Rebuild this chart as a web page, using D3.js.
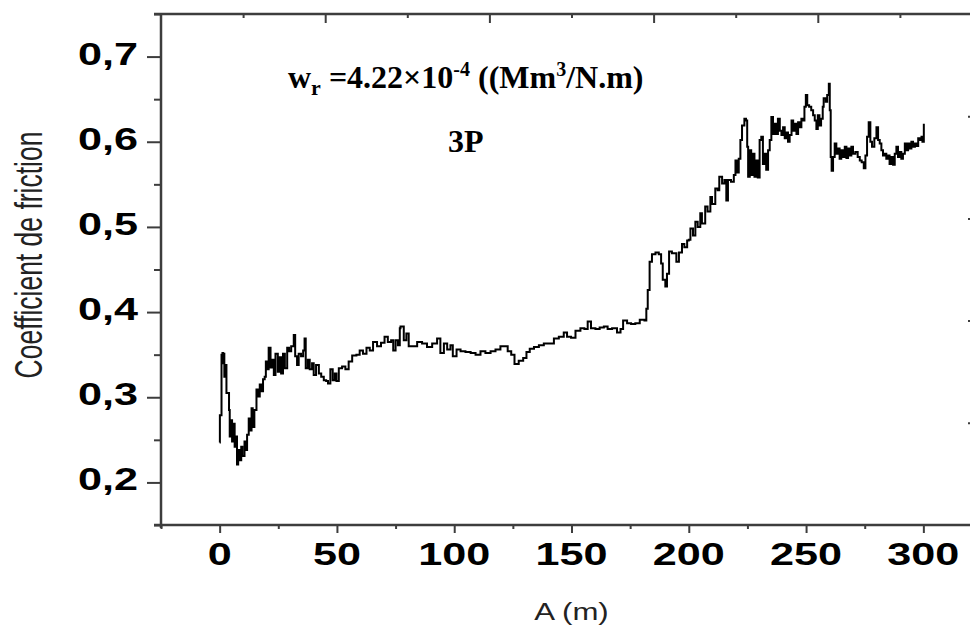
<!DOCTYPE html>
<html>
<head>
<meta charset="utf-8">
<script src="https://cdn.jsdelivr.net/npm/d3@7"></script>
<style>
  html, body { margin: 0; background: #fff; }
  svg { display: block; }
</style>
</head>
<body>
<svg id="chart" width="970" height="630"></svg>
<script>
// distance (m), coefficient of friction
const runIn = [
  [0,0.247],[0.1,0.279],[0.8,0.350],[1.2,0.352],[1.5,0.340],[1.8,0.351],[2.0,0.324],[2.5,0.338],
  [2.9,0.305],[3.6,0.305],[4.0,0.285],[4.3,0.254],[4.9,0.273],[5.3,0.248],[6.0,0.269],[6.4,0.242],
  [7.0,0.254],[7.4,0.221],[7.9,0.238],[8.4,0.226],[9.2,0.242],[9.7,0.231],[10.6,0.248],[11.1,0.238],
  [11.7,0.256],[12.4,0.275],[13.0,0.261],[13.6,0.287],[14.1,0.265],[14.8,0.285],[15.7,0.309],[16.4,0.301],
  [17.1,0.315],[17.8,0.307],[18.5,0.321],[19.2,0.324],[19.7,0.342],[20.2,0.333],[20.9,0.358],[21.7,0.335],
  [22.4,0.344],[23.1,0.326],[23.8,0.351],[24.8,0.330],[25.5,0.347],[26.2,0.328],[27.0,0.351],[27.8,0.334],
  [28.8,0.358],[29.6,0.354],[30.5,0.360],[31.6,0.373],[32.2,0.348],[33.0,0.338],[33.7,0.351],[34.7,0.348],
  [35.6,0.355],[36.2,0.369],[36.7,0.334],[37.6,0.344],[38.4,0.333],[39.4,0.340],[40.1,0.326],[41.1,0.338],
  [42.3,0.328],[43.3,0.324],[44.4,0.320],[45.4,0.319],[46.2,0.316],[47.2,0.333],[48.2,0.320],[49.1,0.328],
  [49.8,0.319],[50.8,0.334],[52.2,0.336],[53.6,0.333],[55.0,0.342],[56.5,0.349],[58.3,0.350],[59.7,0.355],
  [61.1,0.351],[62.6,0.358],[64.0,0.355],[65.4,0.365],[67.1,0.360],[68.8,0.364],[70.3,0.371],[71.7,0.365],
  [73.1,0.367],[74.0,0.355],[75.0,0.367],[76.0,0.361],[76.8,0.381]
];
const plateau = [
  [77.1,0.383],[78.5,0.367],[79.6,0.375],[80.6,0.360],[82.0,0.360],[84.2,0.365],[86.3,0.363],[88.4,0.359],
  [90.6,0.363],[92.7,0.369],[94.1,0.352],[95.6,0.363],[97.0,0.356],[98.4,0.361],[99.4,0.348],[101.0,0.356],
  [102.7,0.354],[104.8,0.353],[107.0,0.352],[109.1,0.350],[111.2,0.354],[113.3,0.352],[115.5,0.354],[117.6,0.356],
  [119.7,0.360],[121.1,0.360],[122.8,0.354],[124.3,0.350],[125.7,0.339],[127.5,0.343],[129.4,0.346],[130.8,0.353],
  [132.2,0.357],[134.0,0.359],[136.1,0.361],[138.2,0.363],[141.0,0.363],[142.5,0.369],[144.6,0.371],[146.7,0.376],
  [148.1,0.371],[149.8,0.370],[151.7,0.378],[153.8,0.381],[155.5,0.380],[156.9,0.389],[158.3,0.381],[160.2,0.380],
  [162.0,0.382],[163.8,0.383],[165.4,0.380],[167.3,0.381],[169.4,0.376],[170.9,0.380],[172.0,0.390],[173.7,0.387],
  [175.4,0.386],[177.2,0.387],[179.1,0.391],[181.1,0.390],[181.9,0.404],[182.5,0.426],[183.3,0.459],[184.3,0.468],
  [185.8,0.470],[187.2,0.468],[188.2,0.457],[188.9,0.438],[190.0,0.430],[190.7,0.445],[191.6,0.471],[192.8,0.469],
  [194.7,0.459],[195.8,0.470],[197.1,0.480],[198.1,0.476],[199.3,0.484]
];
const rise = [
  [200.0,0.485],[200.7,0.498],[201.8,0.490],[202.8,0.506],[203.8,0.500],[204.9,0.516],[205.6,0.504],[207.0,0.524],
  [208.0,0.518],[209.2,0.535],[209.9,0.527],[211.3,0.545],[212.3,0.543],[213.0,0.559],[214.2,0.551],[215.2,0.555],
  [216.0,0.531],[216.7,0.555],[218.0,0.553],[219.2,0.561],[219.9,0.578],[220.6,0.564],[221.3,0.580],[222.0,0.602],
  [222.7,0.619],[223.7,0.627],[224.4,0.625],[224.9,0.594],[225.3,0.559],[226.0,0.590],[226.6,0.561],[227.4,0.586],
  [228.0,0.559],[228.7,0.578],[229.4,0.558],[230.2,0.602],[230.9,0.606],[231.6,0.574],[232.3,0.586],[233.0,0.567],
  [233.8,0.590],[234.5,0.602],[235.2,0.629],[235.9,0.609],[236.6,0.621],[237.3,0.609],[238.0,0.627],[238.8,0.613],
  [239.5,0.608],[240.2,0.617],[240.9,0.604],[241.6,0.611],[242.3,0.600],[243.0,0.608],[243.8,0.625],[244.5,0.613],
  [245.2,0.621],[245.9,0.609],[246.6,0.623],[247.3,0.617],[248.0,0.627],[248.8,0.625],[249.3,0.641],[249.9,0.655],
  [250.5,0.643],[251.3,0.641],[252.2,0.637],[253.0,0.631],[253.7,0.625],[254.4,0.615],[255.0,0.631],[255.7,0.619],
  [256.4,0.627],[257.1,0.641],[257.5,0.651],[258.4,0.647],[259.0,0.655],[259.7,0.668],[260.1,0.637],[260.5,0.582],
  [260.9,0.566],[261.5,0.582],[262.2,0.598],[262.9,0.586],[263.6,0.592],[264.3,0.580],[265.0,0.590],[265.8,0.582],
  [266.5,0.594],[267.2,0.581],[267.9,0.592],[268.6,0.584],[269.3,0.594],[270.0,0.586],[271.0,0.588],[272.0,0.582],
  [272.9,0.578],[273.7,0.576],[274.6,0.569],[275.3,0.584],[276.0,0.606],[276.7,0.623],[277.4,0.600],[278.1,0.594],
  [279.1,0.604],[280.0,0.617],[280.7,0.602],[281.4,0.598],[282.1,0.590],[282.8,0.584],[283.5,0.586],[284.2,0.580],
  [285.0,0.584],[285.6,0.574],[286.4,0.582],[287.1,0.573],[287.8,0.586],[288.5,0.594],[289.2,0.582],[289.9,0.588],
  [290.6,0.580],[291.3,0.586],[292.1,0.598],[292.8,0.590],[293.5,0.598],[294.2,0.592],[294.9,0.600],[295.6,0.594],
  [296.4,0.598],[297.1,0.595],[297.8,0.604],[298.5,0.602],[299.2,0.606],[299.6,0.600],[300.2,0.621]
];

const xTicks = [0, 50, 100, 150, 200, 250, 300];
const xMinorTicks = [-25, 25, 75, 125, 175, 225, 275, 325];
const yTicks = [0.2, 0.3, 0.4, 0.5, 0.6, 0.7];
const yTickLabels = ['0,2', '0,3', '0,4', '0,5', '0,6', '0,7'];
const yMinorTicks = [0.15, 0.25, 0.35, 0.45, 0.55, 0.65, 0.75];
// mirror axes on top / right carry their own divisions
const topTicks = [1, 2, 3, 4];
const topMinorTicks = [0.5, 1.5, 2.5, 3.5, 4.5];
const rightTicks = [1, 2, 3, 4];

const svg = d3.select('#chart');
const axisColor = '#3d3d3d';

const x = d3.scaleLinear().domain([-25, 325]).range([161, 982]);
const y = d3.scaleLinear().domain([0.15, 0.75]).range([525, 14]);
const xTop = d3.scaleLinear().domain([0, 5]).range(x.range());
const yRight = d3.scaleLinear().domain([0, 5]).range(y.range());

const [x0, x1] = x.range();
const [yBottom, yTop] = y.range();

function styleAxis(g) {
    g.select('.domain').remove();
    g.selectAll('line').attr('stroke', axisColor).attr('stroke-width', 2);
}

// ticks
svg.append('g').attr('transform', `translate(0,${yBottom})`)
    .call(d3.axisBottom(x).tickValues(xTicks).tickSize(8).tickFormat(''))
    .call(styleAxis);
svg.append('g').attr('transform', `translate(0,${yBottom})`)
    .call(d3.axisBottom(x).tickValues(xMinorTicks).tickSize(4).tickFormat(''))
    .call(styleAxis);
svg.append('g').attr('transform', `translate(${x0},0)`)
    .call(d3.axisLeft(y).tickValues(yTicks).tickSize(14).tickFormat(''))
    .call(styleAxis);
svg.append('g').attr('transform', `translate(${x0},0)`)
    .call(d3.axisLeft(y).tickValues(yMinorTicks).tickSize(7).tickFormat(''))
    .call(styleAxis);
svg.append('g').attr('transform', `translate(0,${yTop})`)
    .call(d3.axisBottom(xTop).tickValues(topTicks).tickSize(9).tickFormat(''))
    .call(styleAxis);
svg.append('g').attr('transform', `translate(0,${yTop})`)
    .call(d3.axisBottom(xTop).tickValues(topMinorTicks).tickSize(4).tickFormat(''))
    .call(styleAxis);
svg.append('g').attr('transform', `translate(${x1},0)`)
    .call(d3.axisRight(yRight).tickValues(rightTicks).tickSize(-14).tickFormat(''))
    .call(styleAxis);

// frame
const frame = svg.append('g').attr('stroke', axisColor).attr('stroke-width', 2.5);
frame.append('line').attr('x1', x0).attr('x2', x0).attr('y1', yTop).attr('y2', yBottom + 3);
frame.append('line').attr('x1', x0 - 7).attr('x2', x1 + 7).attr('y1', yBottom).attr('y2', yBottom);
frame.append('line').attr('x1', x0 - 7).attr('x2', x1 + 7).attr('y1', yTop).attr('y2', yTop);
frame.append('line').attr('x1', x1).attr('x2', x1).attr('y1', yTop).attr('y2', yBottom);

// tick labels (stretched bold sans)
svg.append('g').selectAll('text').data(xTicks).join('text')
    .attr('transform', d => `translate(${x(d)},565) scale(1.35,1)`)
    .attr('text-anchor', 'middle')
    .attr('font-family', 'Liberation Sans, Arial, sans-serif')
    .attr('font-weight', 'bold').attr('font-size', 32).attr('fill', '#000')
    .text(d => d);

svg.append('g').selectAll('text').data(yTicks).join('text')
    .attr('transform', d => `translate(138,${y(d) + 8}) scale(1.35,1)`)
    .attr('text-anchor', 'end')
    .attr('font-family', 'Liberation Sans, Arial, sans-serif')
    .attr('font-weight', 'bold').attr('font-size', 32).attr('fill', '#000')
    .text((d, i) => yTickLabels[i]);

// axis titles
svg.append('text')
    .attr('transform', `translate(42,255) scale(1.45,1) rotate(-90)`)
    .attr('text-anchor', 'middle')
    .attr('font-family', 'Liberation Sans, Arial, sans-serif')
    .attr('font-size', 26.5).attr('fill', '#222')
    .text('Coefficient de friction');

svg.append('text')
    .attr('transform', `translate(${(x0 + x1) / 2},620) scale(1.3,1)`)
    .attr('text-anchor', 'middle')
    .attr('font-family', 'Liberation Sans, Arial, sans-serif')
    .attr('font-size', 24).attr('fill', '#222')
    .text('A (m)');

// curve
const line = d3.line()
    .x(d => x(d[0]))
    .y(d => y(d[1]))
    .curve(d3.curveStepAfter);

svg.append('path')
    .datum(runIn.concat(plateau, rise))
    .attr('fill', 'none')
    .attr('stroke', '#000')
    .attr('stroke-width', 2)
    .attr('d', line);

// annotations
const note = svg.append('text')
    .attr('x', 288).attr('y', 88)
    .attr('font-family', 'Liberation Serif, Times New Roman, serif')
    .attr('font-weight', 'bold').attr('font-size', 32).attr('fill', '#000');
note.append('tspan').text('w');
note.append('tspan').attr('font-size', 22).attr('dy', 7).text('r');
note.append('tspan').attr('dy', -7).text(' =4.22×10');
note.append('tspan').attr('font-size', 20).attr('dy', -12).text('-4');
note.append('tspan').attr('dy', 12).text(' ((Mm');
note.append('tspan').attr('font-size', 20).attr('dy', -12).text('3');
note.append('tspan').attr('dy', 12).text('/N.m)');

svg.append('text')
    .attr('x', 448).attr('y', 152)
    .attr('font-family', 'Liberation Serif, Times New Roman, serif')
    .attr('font-weight', 'bold').attr('font-size', 32).attr('fill', '#000')
    .text('3P');
</script>
</body>
</html>
